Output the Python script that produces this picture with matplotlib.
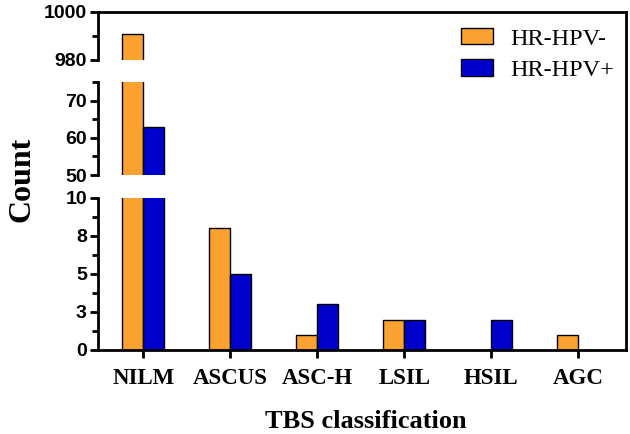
import numpy as np
import matplotlib
matplotlib.use('Agg')
from matplotlib import pyplot as plt
from matplotlib.patches import Patch
from matplotlib.lines import Line2D
from matplotlib.ticker import FixedLocator, MultipleLocator

# data
categories = ['NILM', 'ASCUS', 'ASC-H', 'LSIL', 'HSIL', 'AGC']
hpv_neg = [991, 8, 1, 2, 0, 1]
hpv_pos = [63, 5, 3, 2, 2, 0]
series_names = ['HR-HPV-', 'HR-HPV+']

ORANGE = '#FBA232'
BLUE = '#0000CC'
W, H = 630, 434
SANS = 'Liberation Sans'
SERIF = 'Liberation Serif'
LW = 2.0

fig = plt.figure(figsize=(W / 100, H / 100), dpi=100)


def pix_axes(x0, x1, y0, y1):
    # pixel box (top-left origin) -> figure axes
    return fig.add_axes([x0 / W, 1 - y1 / H, (x1 - x0) / W, (y1 - y0) / H])


ax_top = pix_axes(98, 626, 12, 60)
ax_mid = pix_axes(98, 626, 82, 175)
ax_bot = pix_axes(98, 626, 198, 350)

x = np.arange(len(categories))
bw = 0.24

for ax in (ax_top, ax_mid, ax_bot):
    ax.bar(x - bw / 2, hpv_neg, bw, color=ORANGE, edgecolor='black', linewidth=1.0)
    ax.bar(x + bw / 2, hpv_pos, bw, color=BLUE, edgecolor='black', linewidth=1.0)
    ax.set_xlim(-0.52, 5.55)
    ax.patch.set_alpha(0)
    for s in ('top', 'right', 'bottom'):
        ax.spines[s].set_visible(False)
    ax.spines['left'].set_linewidth(LW)
    ax.tick_params(axis='y', which='major', length=6, width=LW, pad=2, labelsize=14)
    ax.tick_params(axis='y', which='minor', length=4, width=LW)
    ax.set_xticks([])

# top segment
ax_top.set_ylim(980, 1000)
ax_top.yaxis.set_major_locator(FixedLocator([980, 1000]))
ax_top.yaxis.set_minor_locator(FixedLocator([990]))
ax_top.spines['top'].set_visible(True)
ax_top.spines['top'].set_linewidth(LW)

# middle segment
ax_mid.set_ylim(50, 75)
ax_mid.yaxis.set_major_locator(FixedLocator([50, 60, 70]))
ax_mid.yaxis.set_minor_locator(FixedLocator([55, 65, 75]))

# bottom segment
ax_bot.set_ylim(0, 10)
ax_bot.yaxis.set_major_locator(FixedLocator([0, 2.5, 5, 7.5, 10]))
ax_bot.set_yticklabels(['0', '3', '5', '8', '10'])
ax_bot.yaxis.set_minor_locator(MultipleLocator(1.25))
ax_bot.spines['bottom'].set_visible(True)
ax_bot.spines['bottom'].set_linewidth(LW)
ax_bot.set_xticks(x)
ax_bot.set_xticklabels(categories)
ax_bot.tick_params(axis='x', length=6, width=LW, pad=7, labelsize=16.5)

for ax in (ax_top, ax_mid, ax_bot):
    for lab in ax.get_yticklabels():
        lab.set_fontweight('bold')
        lab.set_fontfamily(SANS)
for lab in ax_bot.get_xticklabels():
    lab.set_fontweight('bold')
    lab.set_fontfamily(SERIF)

# right edge of the frame
fig.add_artist(Line2D([626 / W, 626 / W], [1 - 12 / H, 1 - 350 / H],
                      color='black', linewidth=LW, solid_capstyle='projecting'))

# legend
handles = [Patch(facecolor=ORANGE, edgecolor='black', linewidth=1.0),
           Patch(facecolor=BLUE, edgecolor='black', linewidth=1.0)]
fig.legend(handles, series_names, loc='upper left',
           bbox_to_anchor=(461 / W, 1 - 28 / H), frameon=False,
           prop={'family': SERIF, 'size': 17.5},
           handlelength=1.3, handleheight=0.66, handletextpad=0.72,
           labelspacing=0.4, borderpad=0, borderaxespad=0)

fig.text(22 / W, 1 - 179 / H, 'Count', rotation=90, ha='center', va='center',
         family=SERIF, weight='bold', size=23)
fig.text(366 / W, 1 - 421 / H, 'TBS classification', ha='center', va='center',
         family=SERIF, weight='bold', size=19)

plt.savefig('out.png', dpi=100)
